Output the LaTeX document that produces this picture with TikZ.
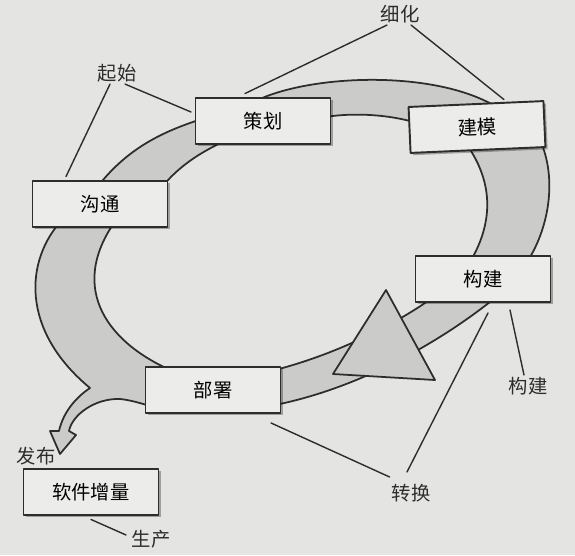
\documentclass[tikz,border=0pt]{standalone}
\usepackage{fontspec}
\setmainfont{Noto Sans CJK SC}
\usetikzlibrary{shadows}
\definecolor{paper}{RGB}{228,228,226}
\definecolor{bandgray}{RGB}{203,203,201}
\definecolor{boxfill}{RGB}{236,236,234}
\definecolor{ink}{RGB}{45,45,45}
\begin{document}
\begin{tikzpicture}[x=0.02cm,y=-0.02cm,font=\fontsize{11}{13}\selectfont,line join=round,line cap=round,
	box/.style={draw=ink,line width=1.1pt,fill=boxfill,minimum width=2.7cm,minimum height=0.92cm,
		drop shadow={shadow xshift=1.3pt,shadow yshift=-1.3pt,fill=black,opacity=0.3}},
	band/.style={draw=ink,line width=1pt,fill=bandgray},
	callout/.style={draw=ink,line width=0.8pt},
	lbl/.style={inner sep=1pt,text=ink}]
	\useasboundingbox (0,0) rectangle (575,555);
	\fill[paper] (0,0) rectangle (575,555);
	
	\path[band] (95,190) .. controls (125,150) and (160,132) .. (205,118) -- (235,136) .. controls (205,150) and (180,163) .. (158,192) -- cycle;
	\path[band] (250,104) .. controls (300,75) and (430,68) .. (495,106) -- (420,124) .. controls (390,114) and (350,112) .. (320,118) -- cycle;
	\path[band] (467,145) .. controls (495,185) and (492,225) .. (470,262) -- (527,262) .. controls (548,230) and (558,180) .. (540,140) -- cycle;
	\path[band] (435,296) .. controls (405,318) and (345,352) .. (275,370) -- (275,405) .. controls (350,390) and (430,350) .. (495,298) -- cycle;
	\path[band] (62,220) .. controls (25,260) and (20,330) .. (90,388) .. controls (75,398) and (63,413) .. (59,431)
		-- (50,431) -- (60,454) -- (76,435) -- (69,431) .. controls (72,415) and (95,398) .. (120,399)
		.. controls (130,400) and (140,403) .. (150,406) -- (175,372) .. controls (110,345) and (66,290) .. (116,220) -- cycle;
	\path[band] (386,290) -- (333,374) -- (435,380) -- cycle;
	
	\foreach \n/\x/\y/\r/\t in {goutong/100/204/0/沟通, cehua/263/121/0/策划, jianmo/477/127/2.5/建模,
		goujian/483/279/0/构建, bushu/213/390/0/部署, zengliang/91/492/0/软件增量}
	\node[box,rotate=\r] (\n) at (\x,\y) {\t};
	
	\foreach \n/\x/\y/\t in {xihua/400/14/细化, qishi/117/73/起始, fabu/36/456/发布,
		shengchan/151/539/生产, zhuanhuan/411/493/转换, goujianlbl/528/386/构建}
	\node[lbl] (\n) at (\x,\y) {\t};
	
	\draw[callout] ([xshift=-0.26cm]xihua.south) -- ([xshift=-0.36cm,yshift=2pt]cehua.north);
	\draw[callout] ([xshift=0.22cm]xihua.south) -- ([xshift=0.56cm,yshift=2pt]jianmo.north);
	\draw[callout] ([xshift=-0.14cm]qishi.south) -- ([xshift=-0.68cm,yshift=2pt]goutong.north);
	\draw[callout] ([xshift=0.16cm]qishi.south) -- ([xshift=-2pt,yshift=0.18cm]cehua.west);
	\draw[callout] ([xshift=-2pt,yshift=0.08cm]shengchan.west) -- ([yshift=-2pt]zengliang.south);
	\draw[callout] ([yshift=0.1cm]zhuanhuan.north west) -- ([xshift=1.16cm,yshift=-0.18cm]bushu.south);
	\draw[callout] ([xshift=-0.08cm,yshift=0.2cm]zhuanhuan.north) -- ([xshift=0.1cm,yshift=-0.2cm]goujian.south);
	\draw[callout] ([xshift=-0.08cm]goujianlbl.north) -- ([xshift=0.54cm,yshift=-0.14cm]goujian.south);
\end{tikzpicture}
\end{document}
